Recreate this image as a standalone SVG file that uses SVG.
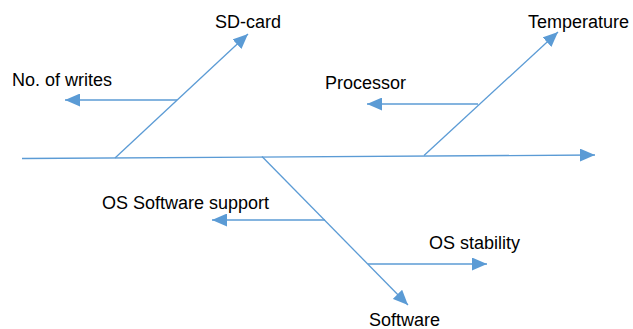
<svg xmlns="http://www.w3.org/2000/svg" width="633" height="329" viewBox="0 0 633 329">
<style>
  .ln { stroke: #5B9BD5; stroke-width: 1.3; fill: none; }
  .lbl { font-family: "Liberation Sans", Arial, sans-serif; font-size: 18px; fill: #000; }
</style>
<defs>
  <marker id="ah" viewBox="0 0 15 13" refX="15" refY="6.5" markerWidth="15" markerHeight="13" markerUnits="userSpaceOnUse" orient="auto">
    <path d="M0,0 L15,6.5 L0,13 z" fill="#5B9BD5"/>
  </marker>
</defs>
<rect width="633" height="329" fill="#fff"/>
<g id="connectors">
  <line class="ln" x1="22" y1="158.5" x2="595" y2="155" marker-end="url(#ah)"/>
  <line class="ln" x1="115" y1="158" x2="248" y2="34" marker-end="url(#ah)"/>
  <line class="ln" x1="177" y1="100" x2="65" y2="100" marker-end="url(#ah)"/>
  <line class="ln" x1="424" y1="155.5" x2="558" y2="32" marker-end="url(#ah)"/>
  <line class="ln" x1="478" y1="104" x2="367" y2="104" marker-end="url(#ah)"/>
  <line class="ln" x1="262" y1="156.5" x2="408" y2="305" marker-end="url(#ah)"/>
  <line class="ln" x1="325" y1="220" x2="212" y2="220" marker-end="url(#ah)"/>
  <line class="ln" x1="368" y1="264" x2="487" y2="264" marker-end="url(#ah)"/>
</g>
<g id="sd-card"><text class="lbl" x="215" y="28">SD-card</text></g>
<g id="no-of-writes"><text class="lbl" x="12" y="86">No. of writes</text></g>
<g id="temperature"><text class="lbl" x="528" y="28">Temperature</text></g>
<g id="processor"><text class="lbl" x="325" y="89">Processor</text></g>
<g id="os-software-support"><text class="lbl" x="102" y="209">OS Software support</text></g>
<g id="os-stability"><text class="lbl" x="429" y="249">OS stability</text></g>
<g id="software"><text class="lbl" x="369" y="326">Software</text></g>
</svg>
